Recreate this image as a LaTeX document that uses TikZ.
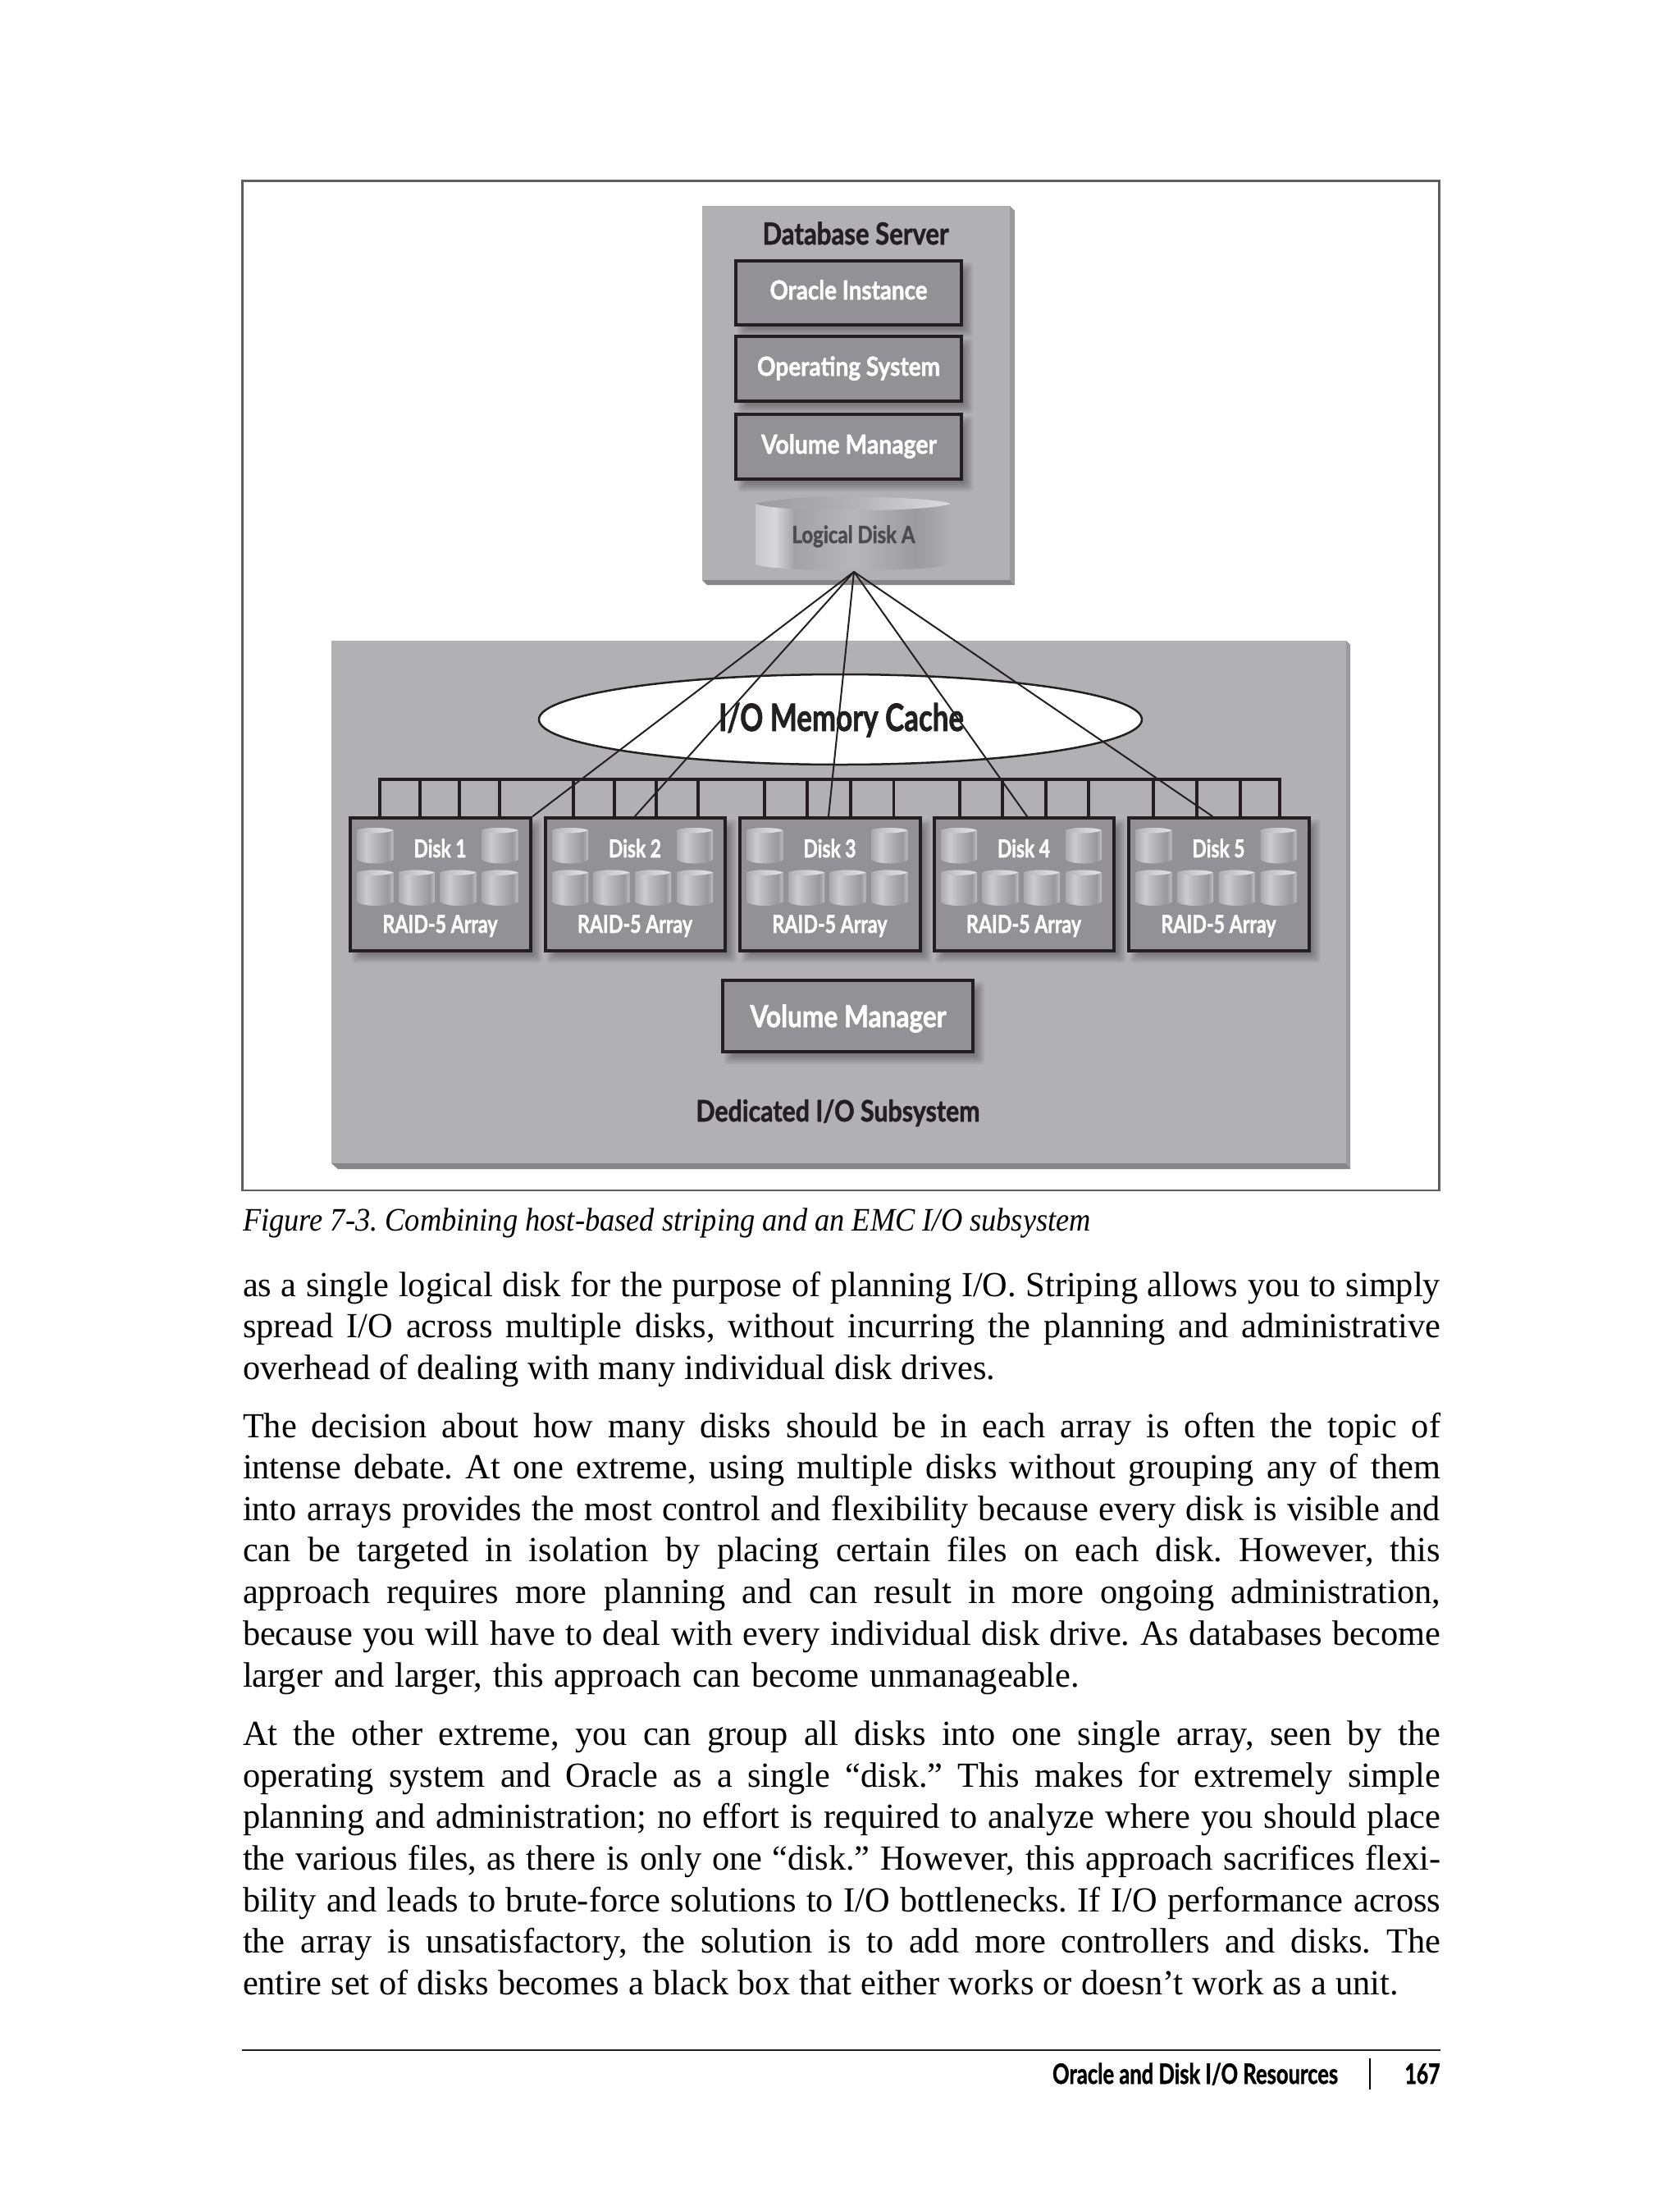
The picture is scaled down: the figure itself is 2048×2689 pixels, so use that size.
\documentclass[tikz,border=0pt]{standalone}
\usepackage{fontspec}
\usepackage{graphicx}
\usetikzlibrary{calc,shapes.geometric}
\setmainfont{Liberation Serif}
\newfontfamily\lbl[BoldFeatures={FakeBold=1.6}]{Lato}
\newfontfamily\bodyf[FakeStretch=0.985]{Liberation Serif}
\newcommand\lsize[1]{\fontsize{#1}{#1}\selectfont}
\newsavebox\fitbox
% fit text to a width given in image px by horizontal scaling
\newcommand\fitw[2]{\sbox\fitbox{#2}\pgfmathsetmacro\fitr{(#1*0.5)/\wd\fitbox}\scalebox{\fitr}[1]{\usebox\fitbox}}
% justify text to a width given in image px
\newcommand\fitj[2]{\sbox\fitbox{\frenchspacing #2}\ifdim\wd\fitbox>#1\dimexpr 0.5pt\relax\fitw{#1}{\frenchspacing #2}\else\makebox[#1\dimexpr 0.5pt\relax][s]{\frenchspacing #2}\fi}
\definecolor{ink}{HTML}{231F20}
\definecolor{framec}{HTML}{5E5E60}
\definecolor{slab}{HTML}{B1B1B4}
\definecolor{slabside}{HTML}{9A9A9E}
\definecolor{slabbot}{HTML}{868689}
\definecolor{boxfill}{HTML}{929296}
\definecolor{disktext}{HTML}{4C4C50}
\pgfdeclarehorizontalshading{bigdisk}{100bp}{color(0bp)=(slab);color(25bp)=(slab!70!white);color(30bp)=(slab!50!white);color(35bp)=(slab!92!black);color(50bp)=(slab!92!white);color(66bp)=(slab!88!black);color(70bp)=(slab!92!black);color(75bp)=(slab);color(100bp)=(slab)}
\pgfdeclarehorizontalshading{bigtop}{100bp}{color(0bp)=(slab!85!black);color(25bp)=(slab!88!black);color(50bp)=(slab!98!white);color(75bp)=(slab!45!white);color(100bp)=(slab!45!white)}
\pgfdeclarehorizontalshading{minidisk}{100bp}{color(0bp)=(slab);color(25bp)=(slab!96!black);color(38bp)=(slab!65!white);color(48bp)=(slab!90!white);color(68bp)=(slab!86!black);color(75bp)=(slab!80!white);color(100bp)=(slab)}
\pgfdeclarehorizontalshading{minitop}{100bp}{color(0bp)=(slab);color(25bp)=(slab);color(50bp)=(slab!60!white);color(75bp)=(slab!35!white);color(100bp)=(slab!35!white)}
\tikzset{
 graybox/.style 2 args={draw=ink,fill=boxfill,line width=2pt,inner sep=0pt,
   minimum width={(#1-4)*0.5pt},minimum height={(#2-4)*0.5pt}},
 lab/.style={anchor=base,inner sep=0pt,outer sep=0pt,font=\lbl\bfseries\lsize{#1}},
 labw/.style={lab={#1},text=white},
 labk/.style={lab={#1},text=ink},
 bodyline/.style={anchor=base west,inner sep=0pt,outer sep=0pt,text=black,font=\bodyf\lsize{21.5}},
 capline/.style={anchor=base west,inner sep=0pt,outer sep=0pt,text=black,font=\bodyf\itshape\lsize{20}},
 wire/.style={draw=ink,line width=1pt,line cap=round},
 busline/.style={draw=ink,line width=1.75pt}
}
% soft drop shadow of a rectangle (image px)
\newcommand\softshadow[4]{\foreach \s in {-5,-3,-1,1,3,5}{\fill[black,opacity=0.055,rounded corners=1.5pt]
   ({#1+9+\s},{#2+9+\s}) rectangle ({#3+7-\s},{#4+8-\s});}}
\newcommand\minidisk[2]{%
 \shade[shading=minidisk] (#1,#2+4) .. controls (#1+8,#2) and (#1+36,#2) .. (#1+44,#2+4) -- (#1+44,#2+40)
   .. controls (#1+36,#2+46) and (#1+8,#2+46) .. (#1,#2+40) -- cycle;
 \shade[shading=minitop] (#1,#2+4) .. controls (#1+8,#2) and (#1+36,#2) .. (#1+44,#2+4)
   .. controls (#1+36,#2+8.5) and (#1+8,#2+8.5) .. (#1,#2+4) -- cycle;}
\begin{document}
\begin{tikzpicture}[x=0.5pt,y=-0.5pt]
\useasboundingbox (0,0) rectangle (2048,2689);
\fill[white] (0,0) rectangle (2048,2689);
% figure frame
\draw[framec,line width=1.25pt] (295.5,220.5) rectangle (1754.5,1451);
% database server slab
\fill[slabside] (1231,251) -- (1237,257) -- (1237,713) -- (1231,707) -- cycle;
\fill[slabbot] (856,707) -- (1231,707) -- (1237,713) -- (862,713) -- cycle;
\fill[slab] (856,251) rectangle (1231,707);
\node[labk=18.5] (dbs) at (1043,298) {\fitw{227}{Database Server}};
\softshadow{895}{316}{1174}{398}
\softshadow{895}{408}{1174}{491}
\softshadow{895}{503}{1174}{586}
\node[graybox={279}{82}] (oi) at (1034.5,357) {};
\node[graybox={279}{83}] (os) at (1034.5,449.5) {};
\node[graybox={279}{83}] (vm) at (1034.5,544.5) {};
\node[labw=16] (oit) at (1034.5,365) {\fitw{192}{Oracle Instance}};
\node[labw=16] (ost) at (1034.5,458) {\fitw{223}{Operating System}};
\node[labw=16] (vmt) at (1035,553) {\fitw{214}{Volume Manager}};
% logical disk
\shade[shading=bigdisk] (921,614) .. controls (949,603) and (1129,603) .. (1159,614) -- (1159,688)
  .. controls (1129,698) and (949,698) .. (921,688) -- cycle;
\shade[shading=bigtop] (921,614) .. controls (949,603) and (1129,603) .. (1159,614)
  .. controls (1129,625) and (949,625) .. (921,614) -- cycle;
\node[lab=14.5,text=disktext] (ldt) at (1040.5,662) {\fitw{150}{Logical Disk A}};
\coordinate (apex) at (1041,697);
% I/O subsystem slab
\fill[slabside] (1641,781) -- (1646,786) -- (1646,1425) -- (1641,1418) -- cycle;
\fill[slabbot] (404,1418) -- (1641,1418) -- (1646,1425) -- (412,1425) -- cycle;
\fill[slab] (404,781) rectangle (1641,1418);
% cache
\node[draw=ink,fill=white,ellipse,line width=1.25pt,minimum width={735*0.5pt},minimum height={110*0.5pt},inner sep=0pt] (cache) at (1024.5,877) {};
% bus
\coordinate (busL) at (463,950);
\coordinate (busR) at (1560,950);
\foreach \x [count=\i] in {463,512,560,609,699,749,800,851,932,984,1037,1089.5,1170,1222,1275,1327,1406,1459,1512,1560}{
  \coordinate (bt\i) at (\x,950);
  \coordinate (bb\i) at (\x,997);
  \draw[busline] (bt\i) -- (bb\i);
}
\draw[busline,line cap=rect] (busL) -- (busR);
% arrays
\foreach \l [count=\n] in {425,662.5,900,1136.5,1374}{
  \softshadow{\l}{995}{\l+223.5}{1160.5}
  \node[graybox={223.5}{165.5}] (arr\n) at (\l+111.75,1077.75) {};
  \minidisk{\l+10.5}{1008}
  \minidisk{\l+162.5}{1008}
  \minidisk{\l+10.5}{1059.5}
  \minidisk{\l+61}{1059.5}
  \minidisk{\l+111.5}{1059.5}
  \minidisk{\l+162.5}{1059.5}
  \node[labw=15] (dl\n) at (\l+111.5,1045) {\fitw{64}{Disk \n}};
  \node[labw=15] (rl\n) at (\l+111.5,1137) {\fitw{140}{RAID-5 Array}};
}
% lower volume manager
\softshadow{879}{1193}{1188}{1284}
\node[graybox={309}{91}] (vm2) at (1033.5,1238.5) {};
\node[labw=18.5] (vm2t) at (1034,1252) {\fitw{239}{Volume Manager}};
\node[labk=18] (dedi) at (1021.5,1367) {\fitw{346}{Dedicated I/O Subsystem}};
% striping lines
\coordinate (tap1) at ($(arr1.north east)+(1,0)$);
\coordinate (tap2) at ($(arr2.north west)+(111.5,0)$);
\coordinate (tap3) at ($(arr3.north west)+(110,0)$);
\coordinate (tap4) at ($(arr4.north west)+(115.5,0)$);
\coordinate (tap5) at ($(arr5.north west)+(104,0)$);
\foreach \n in {1,...,5}{\draw[wire] (apex) -- (tap\n);}
\node[labk=23] (cachet) at (1025.5,891) {\fitw{299}{I/O Memory Cache}};
% caption and body
\node[capline] (cap) at (296,1500) {\fitj{1034}{Figure 7-3. Combining host-based striping and an EMC I/O subsystem}};
\node[bodyline] (t1) at (296,1580) {\fitj{1460}{as a single logical disk for the purpose of planning I/O. Striping allows you to simply}};
\node[bodyline] (t2) at (296,1630.5) {\fitj{1460}{spread I/O across multiple disks, without incurring the planning and administrative}};
\node[bodyline] (t3) at (296,1681.5) {\fitj{917}{overhead of dealing with many individual disk drives.}};
\node[bodyline] (t4) at (296,1752) {\fitj{1460}{The decision about how many disks should be in each array is often the topic of}};
\node[bodyline] (t5) at (296,1802.5) {\fitj{1460}{intense debate. At one extreme, using multiple disks without grouping any of them}};
\node[bodyline] (t6) at (296,1853) {\fitj{1460}{into arrays provides the most control and flexibility because every disk is visible and}};
\node[bodyline] (t7) at (296,1903.5) {\fitj{1460}{can be targeted in isolation by placing certain files on each disk. However, this}};
\node[bodyline] (t8) at (296,1954) {\fitj{1460}{approach requires more planning and can result in more ongoing administration,}};
\node[bodyline] (t9) at (296,2005.5) {\fitj{1460}{because you will have to deal with every individual disk drive. As databases become}};
\node[bodyline] (t10) at (296,2056.5) {\fitj{1020}{larger and larger, this approach can become unmanageable.}};
\node[bodyline] (t11) at (296,2127) {\fitj{1460}{At the other extreme, you can group all disks into one single array, seen by the}};
\node[bodyline] (t12) at (296,2178) {\fitj{1460}{operating system and Oracle as a single “disk.” This makes for extremely simple}};
\node[bodyline] (t13) at (296,2228.5) {\fitj{1460}{planning and administration; no effort is required to analyze where you should place}};
\node[bodyline] (t14) at (296,2279) {\fitj{1460}{the various files, as there is only one “disk.” However, this approach sacrifices flexi-}};
\node[bodyline] (t15) at (296,2330) {\fitj{1460}{bility and leads to brute-force solutions to I/O bottlenecks. If I/O performance across}};
\node[bodyline] (t16) at (296,2380) {\fitj{1460}{the array is unsatisfactory, the solution is to add more controllers and disks. The}};
\node[bodyline] (t17) at (296,2431) {\fitj{1409}{entire set of disks becomes a black box that either works or doesn’t work as a unit.}};
% footer
\draw[ink,line width=1.1pt] (295,2499) -- (1756,2499);
\node[lab=17,text=black,anchor=base west] (ft) at (1283,2540) {\fitw{348}{Oracle and Disk I/O Resources}};
\draw[black,line width=1pt] (1670,2509) -- (1670,2547);
\node[lab=17,text=black,anchor=base west] (pg) at (1712.5,2540) {\fitw{43}{167}};
\end{tikzpicture}
\end{document}
